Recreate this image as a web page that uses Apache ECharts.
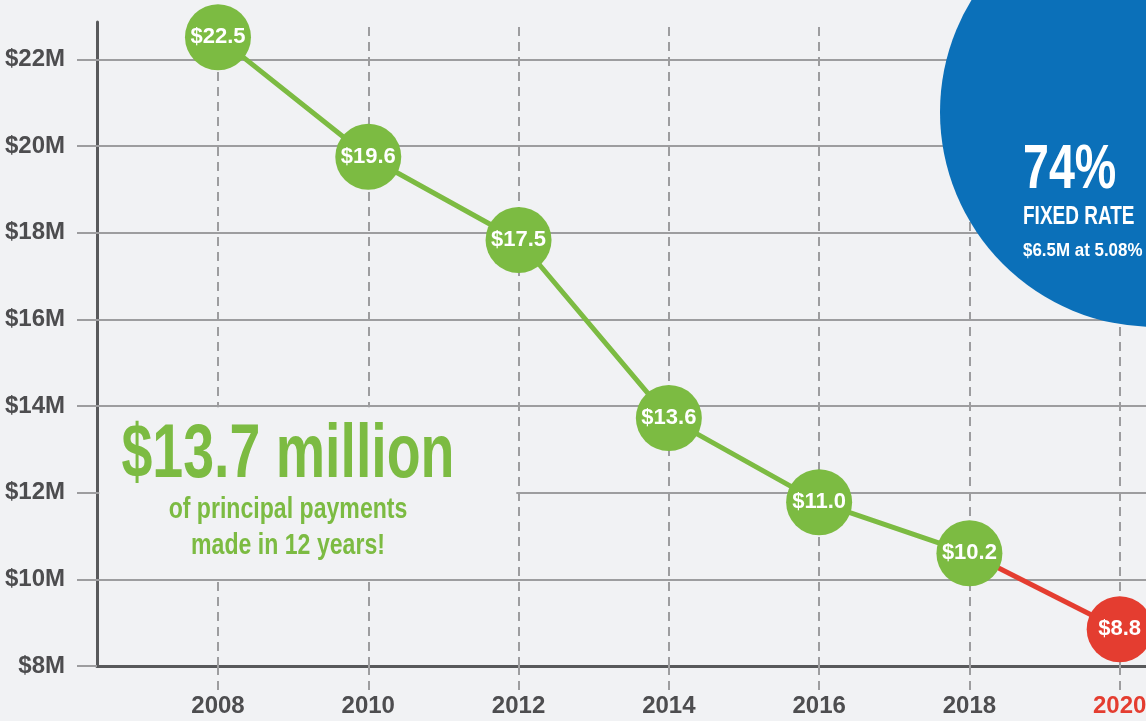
<!DOCTYPE html>
<html>
<head>
<meta charset="utf-8">
<title>Principal</title>
<script src="https://cdn.jsdelivr.net/npm/echarts@6/dist/echarts.min.js"></script>
<style>
  html, body { margin: 0; padding: 0; background: #f1f2f4; }
  #grafico { width: 1146px; height: 721px; }
</style>
</head>
<body>
<div id="grafico"></div>
<script>
// Datos del grafico
const anios = [2008, 2010, 2012, 2014, 2016, 2018, 2020];
const saldo = [22.51, 19.75, 17.83, 13.72, 11.78, 10.60, 8.85];
const etiquetas = ["$22.5", "$19.6", "$17.5", "$13.6", "$11.0", "$10.2", "$8.8"];
const marcasY = [8, 10, 12, 14, 16, 18, 20, 22];

const verde = "#7cbb42";
const rojo = "#e43d30";
const azul = "#0b70b9";
const gris = "#9d9d9f";
const fuente = "'Liberation Sans', Arial, sans-serif";

const xMin = 2006.39;
const xMax = 2020.35;

// Serie verde hasta 2018, tramo rojo 2018-2020
let puntosVerdes = [];
for (let i = 0; i < anios.length - 1; i++) {
  puntosVerdes.push([anios[i], saldo[i]]);
}
let n = anios.length;
let puntosRojos = [
  { value: [anios[n - 2], saldo[n - 2]], symbol: "none" },
  [anios[n - 1], saldo[n - 1]],
];

// Lineas de la cuadricula
let lineasGrid = [];
anios.forEach((a) => {
  lineasGrid.push({ xAxis: a, lineStyle: { type: [9, 6], color: gris, width: 2 } });
});
marcasY.slice(1).forEach((v) => {
  lineasGrid.push({ yAxis: v, lineStyle: { type: "solid", color: gris, width: 2 } });
});

let etiqueta = {
  show: true,
  position: "inside",
  color: "#fff",
  fontSize: 22,
  fontWeight: "bold",
  fontFamily: fuente,
};

// Texto libre comprimido en horizontal (la fuente original es condensada)
function texto(t, x, y, size, color, escala, alinear) {
  return {
    type: "text",
    z: 40,
    x: x,
    y: y,
    scaleX: escala,
    style: {
      text: t,
      x: 0,
      y: 0,
      textAlign: alinear,
      textVerticalAlign: "middle",
      font: "bold " + size + "px " + fuente,
      fill: color,
    },
  };
}

echarts.init(document.querySelector("#grafico")).setOption({
  backgroundColor: "#f1f2f4",
  animation: false,
  grid: { left: 97, right: 0, top: 22, bottom: 55, outerBoundsMode: "none", containLabel: false },
  xAxis: {
    type: "value",
    min: xMin,
    max: xMax,
    splitLine: { show: false },
    axisLine: { lineStyle: { color: "#58595b", width: 3 } },
    axisTick: {
      customValues: anios,
      length: 25,
      lineStyle: { color: gris, width: 2, type: [9, 6] },
    },
    axisLabel: {
      customValues: anios,
      margin: 28,
      fontSize: 24,
      fontWeight: "bold",
      fontFamily: fuente,
      formatter: function (v) {
        return String(v);
      },
      color: function (v) {
        return v == 2020 ? rojo : "#4d4d4f";
      },
    },
  },
  yAxis: {
    type: "value",
    min: 8,
    max: 22.86,
    splitLine: { show: false },
    axisLine: { show: true, lineStyle: { color: "#58595b", width: 3 } },
    axisTick: {
      show: true,
      customValues: marcasY,
      length: 20,
      lineStyle: { color: gris, width: 2 },
    },
    axisLabel: {
      customValues: marcasY,
      margin: 32,
      fontSize: 24,
      fontWeight: "bold",
      fontFamily: fuente,
      color: "#4d4d4f",
      formatter: "${value}M",
    },
  },
  series: [
    {
      type: "line",
      z: 3,
      data: puntosVerdes,
      symbol: "circle",
      symbolSize: 66,
      itemStyle: { color: verde },
      lineStyle: { color: verde, width: 5 },
      label: Object.assign({}, etiqueta, {
        formatter: function (p) {
          return etiquetas[p.dataIndex];
        },
      }),
      markLine: {
        silent: true,
        z: 1,
        symbol: ["none", "none"],
        label: { show: false },
        data: lineasGrid,
      },
      markArea: {
        silent: true,
        z: 1.5,
        itemStyle: { color: "#f1f2f4" },
        data: [[{ xAxis: xMin + 0.03, yAxis: 13.97 }, { xAxis: 2011.97, yAxis: 10.03 }]],
      },
    },
    {
      type: "line",
      z: 2,
      data: puntosRojos,
      symbol: "circle",
      symbolSize: 66,
      itemStyle: { color: rojo },
      lineStyle: { color: rojo, width: 5 },
      label: Object.assign({}, etiqueta, {
        formatter: function () {
          return etiquetas[n - 1];
        },
      }),
    },
  ],
  graphic: [
    texto("$13.7 million", 288, 456, 76, verde, 0.73, "center"),
    texto("of principal payments", 288, 510, 30, verde, 0.77, "center"),
    texto("made in 12 years!", 288, 546, 30, verde, 0.77, "center"),
    {
      type: "circle",
      z: 30,
      shape: { cx: 1155, cy: 112, r: 215 },
      style: { fill: azul },
    },
    texto("74%", 1023, 171, 63, "#fff", 0.74, "left"),
    texto("FIXED RATE", 1023, 217.5, 25, "#fff", 0.76, "left"),
    texto("$6.5M at 5.08%", 1023, 251, 18, "#fff", 0.94, "left"),
  ],
});
</script>
</body>
</html>
